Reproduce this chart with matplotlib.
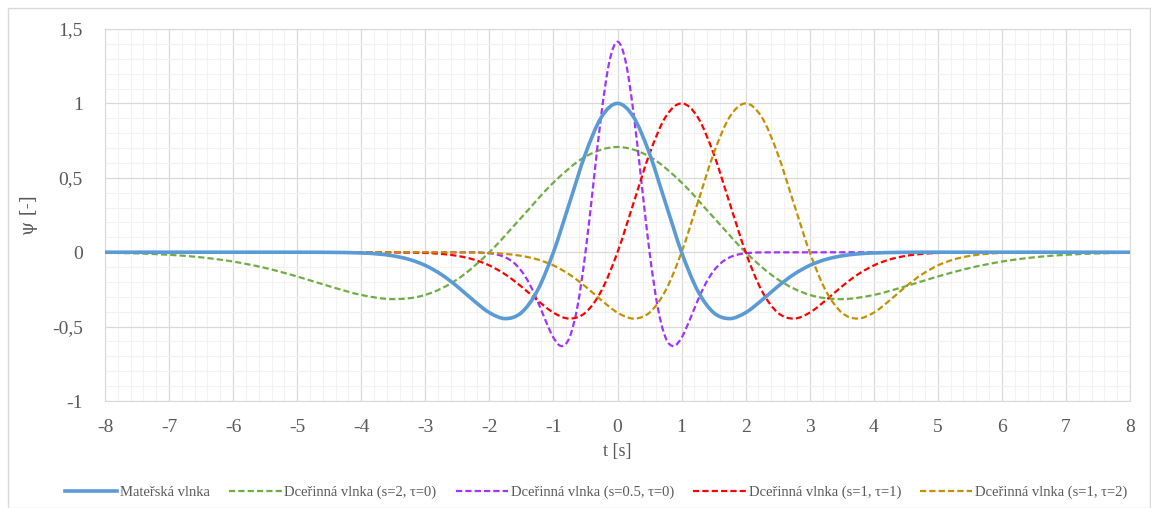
import numpy as np
import matplotlib.pyplot as plt
from matplotlib.path import Path
from matplotlib.patches import PathPatch, Rectangle
from matplotlib.lines import Line2D
from matplotlib.ticker import MultipleLocator, FuncFormatter

plt.rcParams['font.family'] = ['Liberation Serif', 'DejaVu Serif']

# ---- data ----
# Mateřská vlnka
t_mother = [-8, -5, -4.5, -4, -3.75, -3.5, -3.25, -3, -2.75, -2.5, -2.25, -2, -1.75, -1.5,
            -1.25, -1, -0.75, -0.5, -0.25, 0, 0.25, 0.5, 0.75, 1, 1.25, 1.5, 1.75, 2, 2.25,
            2.5, 2.75, 3, 3.25, 3.5, 3.75, 4, 4.5, 5, 8]
y_mother = [0, 0, -0.0008, -0.0050, -0.0115, -0.0246, -0.0486, -0.0889, -0.1496, -0.2307,
            -0.3232, -0.4060, -0.4461, -0.4058, -0.2575, 0, 0.3302, 0.6619, 0.9087, 1,
            0.9087, 0.6619, 0.3302, 0, -0.2575, -0.4058, -0.4461, -0.4060, -0.3232, -0.2307,
            -0.1496, -0.0889, -0.0486, -0.0246, -0.0115, -0.0050, -0.0008, 0, 0]

# Dceřinná vlnka (s=2, tau=0)
t_s2 = [-8, -7.5, -7, -6.5, -6, -5.5, -5, -4.5, -4, -3.5, -3, -2.5, -2, -1.5, -1, -0.5, 0,
        0.5, 1, 1.5, 2, 2.5, 3, 3.5, 4, 4.5, 5, 5.5, 6, 6.5, 7, 7.5, 8]
y_s2 = [-0.0035, -0.0081, -0.0174, -0.0344, -0.0629, -0.1058, -0.1631, -0.2285, -0.2871,
        -0.3154, -0.2869, -0.1821, 0, 0.2335, 0.4680, 0.6425, 0.7071, 0.6425, 0.4680,
        0.2335, 0, -0.1821, -0.2869, -0.3154, -0.2871, -0.2285, -0.1631, -0.1058,
        -0.0629, -0.0344, -0.0174, -0.0081, -0.0035]

# Dceřinná vlnka (s=0.5, tau=0)
t_s05 = [-8, -2.25, -2, -1.875, -1.75, -1.625, -1.5, -1.375, -1.25, -1.125, -1, -0.875,
         -0.75, -0.625, -0.5, -0.375, -0.25, -0.125, 0, 0.125, 0.25, 0.375, 0.5, 0.625,
         0.75, 0.875, 1, 1.125, 1.25, 1.375, 1.5, 1.625, 1.75, 1.875, 2, 2.25, 8]
y_s05 = [0, -0.0011, -0.0071, -0.0163, -0.0348, -0.0687, -0.1257, -0.2116, -0.3263,
         -0.4571, -0.5742, -0.6309, -0.5739, -0.3642, 0, 0.4670, 0.9361, 1.2851, 1.4142,
         1.2851, 0.9361, 0.4670, 0, -0.3642, -0.5739, -0.6309, -0.5742, -0.4571, -0.3263,
         -0.2116, -0.1257, -0.0687, -0.0348, -0.0163, -0.0071, -0.0011, 0]

# Dceřinná vlnka (s=1, tau=1)
t_tau1 = [-8, -4, -3.5, -3, -2.75, -2.5, -2.25, -2, -1.75, -1.5, -1.25, -1, -0.75, -0.5,
          -0.25, 0, 0.25, 0.5, 0.75, 1, 1.25, 1.5, 1.75, 2, 2.25, 2.5, 2.75, 3, 3.25,
          3.5, 3.75, 4, 4.25, 4.5, 4.75, 5, 5.5, 6, 8]
y_tau1 = y_mother[:]

# Dceřinná vlnka (s=1, tau=2)
t_tau2 = [-8, -3, -2.5, -2, -1.75, -1.5, -1.25, -1, -0.75, -0.5, -0.25, 0, 0.25, 0.5,
          0.75, 1, 1.25, 1.5, 1.75, 2, 2.25, 2.5, 2.75, 3, 3.25, 3.5, 3.75, 4, 4.25,
          4.5, 4.75, 5, 5.25, 5.5, 5.75, 6, 6.5, 7, 8]
y_tau2 = y_mother[:]

labels = ['Mateřská vlnka', 'Dceřinná vlnka (s=2, τ=0)', 'Dceřinná vlnka (s=0.5, τ=0)',
          'Dceřinná vlnka (s=1, τ=1)', 'Dceřinná vlnka (s=1, τ=2)']
colors = ['#5B9BD5', '#70AD47', '#A033FF', '#FF0000', '#C39100']


def smooth_path(x, y):
    # Excel-like smoothed line: cubic Bezier between points, finite-difference tangents
    x = np.asarray(x, float)
    y = np.asarray(y, float)
    n = len(x)
    m = np.zeros(n)
    m[0] = (y[1] - y[0]) / (x[1] - x[0])
    m[-1] = (y[-1] - y[-2]) / (x[-1] - x[-2])
    for i in range(1, n - 1):
        m[i] = (y[i + 1] - y[i - 1]) / (x[i + 1] - x[i - 1])
    verts = [(x[0], y[0])]
    codes = [Path.MOVETO]
    for i in range(n - 1):
        dx = x[i + 1] - x[i]
        verts += [(x[i] + dx / 3, y[i] + m[i] * dx / 3),
                  (x[i + 1] - dx / 3, y[i + 1] - m[i + 1] * dx / 3),
                  (x[i + 1], y[i + 1])]
        codes += [Path.CURVE4] * 3
    return Path(verts, codes)


fig = plt.figure(figsize=(11.51, 5.08), dpi=100)
ax = fig.add_axes([0.0912, 0.2106, 0.8906, 0.7323])

series = [(t_mother, y_mother), (t_s2, y_s2), (t_s05, y_s05), (t_tau1, y_tau1), (t_tau2, y_tau2)]
order = [1, 2, 3, 4, 0]
for i in order:
    t, y = series[i]
    if i == 0:
        patch = PathPatch(smooth_path(t, y), facecolor='none', edgecolor=colors[i],
                          lw=2.6, capstyle='round', zorder=5)
    else:
        patch = PathPatch(smooth_path(t, y), facecolor='none', edgecolor=colors[i],
                          lw=1.6, linestyle=(0, (2.8, 1.4)), zorder=4)
    ax.add_patch(patch)

ax.set_xlim(-8, 8)
ax.set_ylim(-1, 1.5)
ax.xaxis.set_major_locator(MultipleLocator(1))
ax.xaxis.set_minor_locator(MultipleLocator(0.2))
ax.yaxis.set_major_locator(MultipleLocator(0.5))
ax.yaxis.set_minor_locator(MultipleLocator(0.1))
ax.yaxis.set_major_formatter(FuncFormatter(lambda v, p: ('%g' % v).replace('.', ',')))
ax.xaxis.set_major_formatter(FuncFormatter(lambda v, p: '%g' % v))
ax.grid(which='minor', color='#F2F2F2', lw=0.8)
ax.grid(which='major', color='#D9D9D9', lw=0.9)
ax.set_axisbelow(True)
for s in ax.spines.values():
    s.set_color('#D9D9D9')
ax.tick_params(which='both', length=0, labelsize=14, colors='#595959')
ax.tick_params(axis='x', pad=13)
ax.tick_params(axis='y', pad=16)
ax.set_xlabel('t [s]', fontsize=13, color='#595959', labelpad=5)
ax.set_ylabel('ψ [-]', fontsize=13, color='#595959', labelpad=10, family=['DejaVu Serif'])

handles = [Line2D([], [], color=colors[0], lw=2.6)] + \
          [Line2D([], [], color=c, lw=1.6, linestyle=(0, (2.8, 1.4))) for c in colors[1:]]
fig.legend(handles, labels, loc='center', bbox_to_anchor=(0.518, 0.031), ncol=5,
           frameon=False, fontsize=10.5, handlelength=3.6, handletextpad=0.2,
           columnspacing=1.3, labelcolor='#595959')

fig.patches.append(Rectangle((0.007, 0.0), 0.992, 0.985, transform=fig.transFigure,
                             fill=False, edgecolor='#D9D9D9', lw=1))

fig.savefig('out.png', dpi=100)
